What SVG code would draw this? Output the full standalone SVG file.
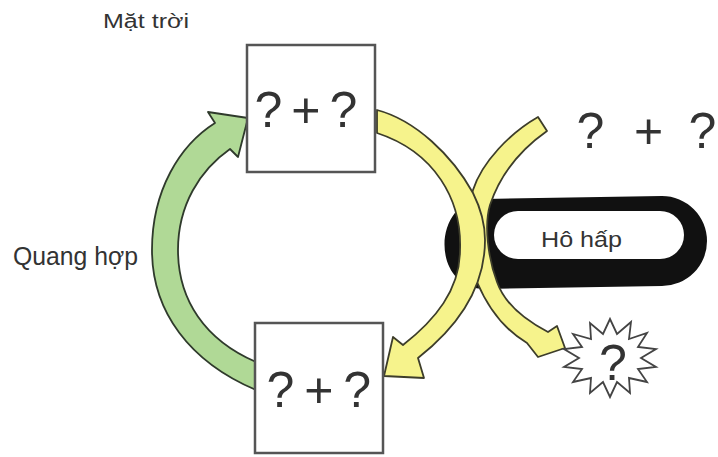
<svg xmlns="http://www.w3.org/2000/svg" width="718" height="457" viewBox="0 0 718 457">
  <style>
    .box { fill: #ffffff; stroke: #555555; stroke-width: 2.5; }
    .q { font-family: "Liberation Sans", Arial, sans-serif; font-size: 50px; fill: #333333; }
    .lbl { font-family: "Liberation Sans", Arial, sans-serif; fill: #333333; }
    .green { fill: #b0d996; stroke: #2f3a2c; stroke-width: 1.8; stroke-linejoin: round; }
    .yellow { fill: #f6f38c; stroke: #3d3d2a; stroke-width: 1.8; stroke-linejoin: round; }
  </style>
  <rect width="718" height="457" fill="#ffffff"/>

  <text class="lbl" x="103" y="28" font-size="20" textLength="86" lengthAdjust="spacingAndGlyphs">Mặt trời</text>
  <text class="lbl" x="13" y="265" font-size="25" textLength="125" lengthAdjust="spacingAndGlyphs">Quang hợp</text>

  <g id="ho-hap">
    <path d="M 485 199 L 662 196 A 45 45 0 0 1 707 241 A 45 45 0 0 1 662 286 L 485 289 C 430 289 432 199 485 199 Z" fill="#111111"/>
    <rect x="494" y="211" width="190" height="48" rx="24" fill="#ffffff"/>
    <text class="lbl" x="541" y="247" font-size="22" textLength="81" lengthAdjust="spacingAndGlyphs">Hô hấp</text>
  </g>

  <g id="connectors">
    <path id="resp-arrow" class="yellow" d="M 538 117 C 510 133 482 162 473 190 C 465 215 465 255 477 282 C 488 308 505 330 527 343 L 538 357 L 565 348 L 557 326 L 548 332 C 525 320 505 305 497 282 C 488 258 484 225 490 205 C 500 175 520 150 547 131 Z"/>
    <path id="cycle-arrow" class="yellow" d="M 377 110 C 415 120 452 155 473 193 C 480 207 485 222 485 240 C 485 285 460 325 418 358 L 424 378 L 384 376 L 393 337 L 403 345 C 435 320 460 290 460 250 C 462 200 435 152 377 133 Z"/>
    <path id="photo-arrow" class="green" d="M 256 390 C 190 362 152 312 152 250 C 152 190 180 145 215 123 L 208 112 L 248 118 L 238 157 L 230 149 C 200 170 178 205 178 250 C 178 300 205 340 256 362 Z"/>
  </g>

  <g id="top-box">
    <rect class="box" x="247" y="45" width="128" height="127"/>
    <text class="q" x="254.5" y="127" letter-spacing="9">?+?</text>
  </g>

  <g id="bottom-box">
    <rect class="box" x="255" y="323" width="128" height="130"/>
    <text class="q" x="266.5" y="407" letter-spacing="-2">? + ?</text>
  </g>

  <g id="top-right">
    <text class="q" x="576.5 604 634 662 688.5" y="148">? + ?</text>
  </g>

  <g id="star">
    <polygon points="610,319 617,334 631,322 629,339 647,333 638,347 656,349 641,358 656,367 638,369 647,382 629,378 630,393 617,382 610,397 603,382 590,393 591,378 573,382 582,369 564,367 579,358 564,349 582,347 573,334 591,339 590,323 603,334" fill="#ffffff" stroke="#444444" stroke-width="1.8" stroke-linejoin="miter"/>
    <text class="q" x="599" y="380" font-size="46">?</text>
  </g>
</svg>
